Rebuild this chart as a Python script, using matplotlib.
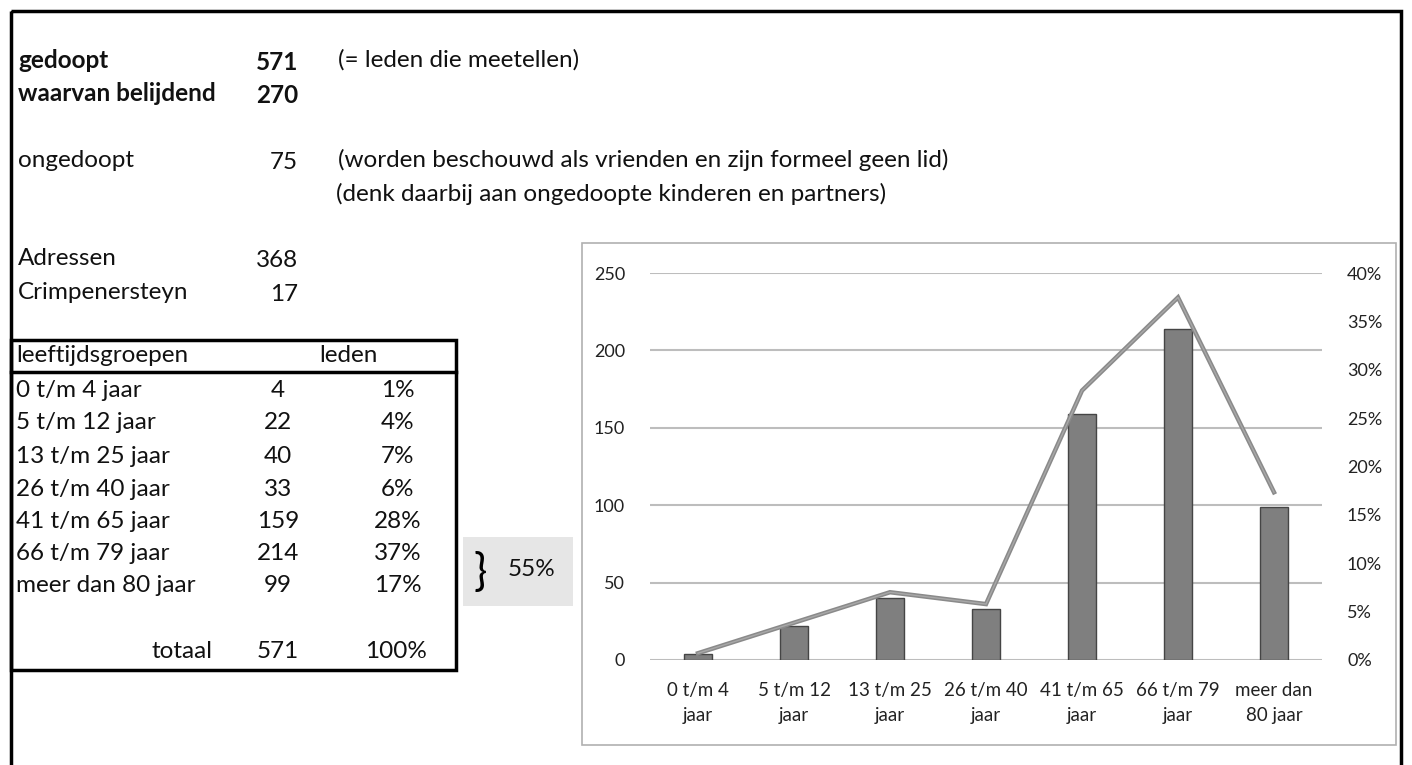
import matplotlib
matplotlib.use("Agg")
import matplotlib.pyplot as plt
from matplotlib.patches import Rectangle
import numpy as np

plt.rcParams['font.family'] = ['Lato', 'DejaVu Sans']

# ---- data ----
summary_labels = ["gedoopt", "waarvan belijdend", "ongedoopt", "Adressen", "Crimpenersteyn"]
summary_values = ["571", "270", "75", "368", "17"]
summary_notes = ["(= leden die meetellen)", "", "(worden beschouwd als vrienden en zijn formeel geen lid)", "", ""]
extra_note = "(denk daarbij aan ongedoopte kinderen en partners)"

age_groups = ["0 t/m 4 jaar", "5 t/m 12 jaar", "13 t/m 25 jaar", "26 t/m 40 jaar",
              "41 t/m 65 jaar", "66 t/m 79 jaar", "meer dan 80 jaar"]
members = [4, 22, 40, 33, 159, 214, 99]
pct_labels = ["1%", "4%", "7%", "6%", "28%", "37%", "17%"]
total_members = 571
total_pct = "100%"
older_share = "55%"
chart_labels = ["0 t/m 4\njaar", "5 t/m 12\njaar", "13 t/m 25\njaar", "26 t/m 40\njaar",
                "41 t/m 65\njaar", "66 t/m 79\njaar", "meer dan\n80 jaar"]
left_ticks = [0, 50, 100, 150, 200, 250]
right_ticks = [0, 0.05, 0.10, 0.15, 0.20, 0.25, 0.30, 0.35, 0.40]

W, H = 1412, 765
fig = plt.figure(figsize=(W / 100, H / 100), dpi=100)
fig.patch.set_facecolor('white')

# overlay axes in pixel coordinates
ov = fig.add_axes([0, 0, 1, 1])
ov.set_xlim(0, W)
ov.set_ylim(H, 0)
ov.axis('off')

FS = 17.5
def t(x, y, s, ha='left', bold=False, fs=FS):
    ov.text(x, y, s, ha=ha, va='center', fontsize=fs,
            fontweight='bold' if bold else 'normal', color='#111111')

# outer border
ov.add_patch(Rectangle((11, 11), 1390, 800, fill=False, lw=2.5, ec='black'))

# summary block
rows_y = [60, 93, 160, 258, 292]
for lab, val, note, y, i in zip(summary_labels, summary_values, summary_notes, rows_y, range(5)):
    b = i < 2
    t(18, y, lab, bold=b)
    t(298, y + 2, val, ha='right', bold=b)
    if note:
        t(338, y, note)
t(336, 194, extra_note)

# table
ov.add_patch(Rectangle((11, 340), 445, 330, fill=False, lw=2.5, ec='black'))
ov.plot([11, 456], [372, 372], color='black', lw=2.5)
t(16, 355, "leeftijdsgroepen")
t(348, 355, "leden", ha='center')
ty = [390, 422, 456, 489, 521, 553, 586]
for g, m, p, y in zip(age_groups, members, pct_labels, ty):
    t(16, y, g)
    t(278, y, str(m), ha='center')
    t(398, y, p, ha='center')
t(213, 652, "totaal", ha='right')
t(278, 652, str(total_members), ha='center')
t(396, 652, total_pct, ha='center')

# grey box with brace
ov.add_patch(Rectangle((463, 537), 110, 69, fc='#e6e6e6', ec='none'))
ov.text(480, 574, "}", ha='center', va='center', fontsize=32, color='black')
t(532, 570, older_share, ha='center')

# chart frame
ov.add_patch(Rectangle((582, 243), 814, 502, fill=False, lw=1.2, ec='#b0b0b0'))

# chart axes
x0, x1 = 650, 1322
yb, yt = 660, 273
ax = fig.add_axes([x0 / W, (H - yb) / H, (x1 - x0) / W, (yb - yt) / H])
ax.set_facecolor('none')
x = np.arange(len(members))
ax.set_xlim(-0.5, len(members) - 0.5)
ax.set_ylim(0, 250)
ax.set_yticks(left_ticks)
ax.yaxis.grid(True, color='#bdbdbd', lw=1.5)
ax.set_axisbelow(True)
ax.bar(x, members, width=0.3, color='#7f7f7f', edgecolor='#454545', lw=1, zorder=2)
for s in ax.spines.values():
    s.set_visible(False)
ax.tick_params(axis='y', length=0, labelsize=13, colors='#222222', pad=18)
ax.tick_params(axis='x', length=0, labelsize=13.5, colors='#222222', pad=16)
ax.set_xticks(x)
ax.set_xticklabels(chart_labels, linespacing=1.55)

ax2 = ax.twinx()
ax2.set_ylim(0, 0.40)
ax2.set_yticks(right_ticks)
ax2.set_yticklabels([f"{int(round(v * 100))}%" for v in right_ticks])
for s in ax2.spines.values():
    s.set_visible(False)
ax2.tick_params(axis='y', length=0, labelsize=13, colors='#222222', pad=18)
share = np.array(members) / total_members
ax2.plot(x, share, color='#8a8a8a', lw=3.2, zorder=3, solid_joinstyle='miter')
ax2.plot(x, share, color='#a8a8a8', lw=1.0, zorder=4, solid_joinstyle='miter')

fig.savefig("out.png", dpi=100)
